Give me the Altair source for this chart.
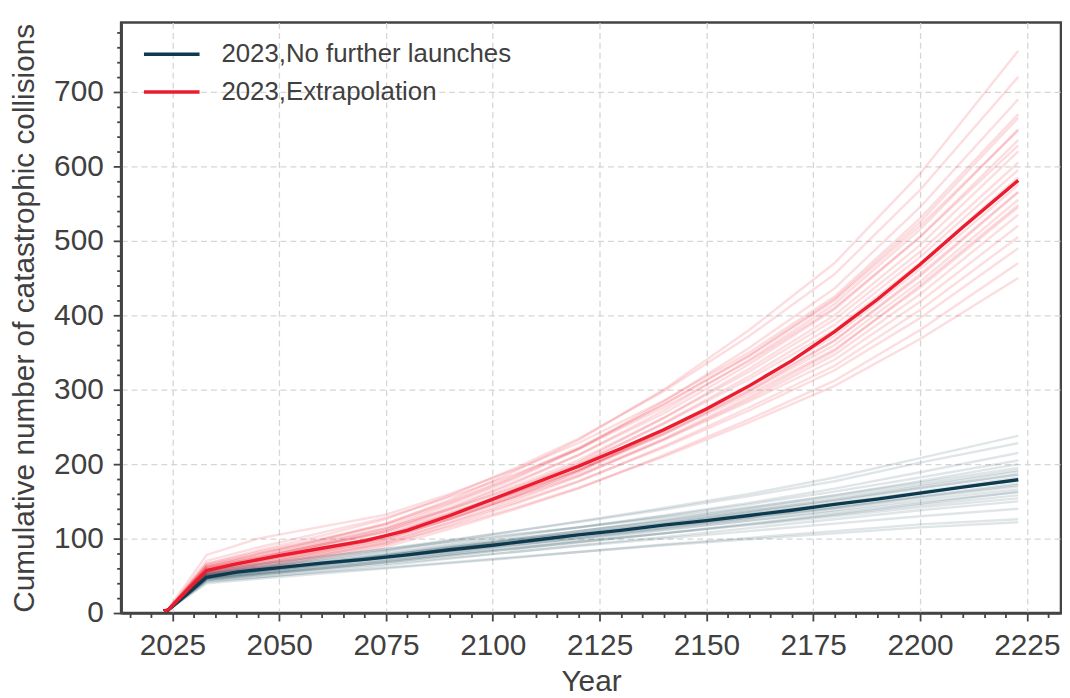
import altair as alt
import pandas as pd

# ---------------- data ----------------
# mean trajectories
mean_years = [2023, 2024, 2033, 2040, 2050, 2060, 2070, 2080, 2090, 2100, 2110,
              2120, 2130, 2140, 2150, 2160, 2170, 2180, 2190, 2200, 2210, 2223]
red_mean = [3, 4, 57, 66, 77, 87, 97, 111, 131, 153, 175,
            197, 221, 246, 274, 305, 339, 378, 421, 468, 518, 581]
dark_mean = [3, 4, 48, 55, 61, 67, 72, 78, 85, 91, 98,
             105, 111, 118, 124, 131, 138, 146, 153, 161, 169, 179]

# individual simulation runs
run_years = [2023, 2024, 2033, 2045, 2060, 2075, 2090, 2105, 2120, 2140, 2160, 2180, 2200, 2223]

red_runs = [
    [3, 5, 62, 78, 98, 120, 152, 190, 232, 300, 380, 470, 590, 755],
    [3, 4, 66, 84, 104, 126, 158, 194, 234, 298, 372, 455, 568, 720],
    [3, 5, 60, 75, 94, 114, 146, 180, 220, 284, 356, 436, 545, 690],
    [3, 4, 63, 80, 99, 118, 148, 182, 220, 280, 346, 422, 525, 665],
    [3, 5, 58, 72, 90, 110, 140, 174, 212, 272, 340, 415, 515, 650],
    [3, 4, 70, 88, 108, 128, 156, 186, 220, 276, 338, 410, 505, 635],
    [3, 4, 55, 69, 86, 104, 134, 166, 202, 262, 328, 400, 494, 620],
    [3, 5, 61, 74, 92, 110, 138, 170, 205, 262, 324, 394, 485, 605],
    [3, 4, 57, 70, 87, 104, 132, 162, 198, 255, 318, 387, 478, 595],
    [3, 4, 64, 79, 96, 114, 140, 168, 200, 254, 314, 380, 470, 585],
    [3, 4, 52, 65, 82, 99, 126, 156, 190, 245, 306, 372, 462, 575],
    [3, 5, 59, 72, 88, 104, 130, 160, 192, 244, 302, 366, 452, 565],
    [3, 4, 54, 67, 84, 102, 130, 160, 192, 242, 298, 360, 445, 555],
    [3, 4, 62, 76, 92, 108, 134, 162, 192, 240, 294, 354, 437, 545],
    [3, 4, 50, 62, 78, 95, 122, 151, 183, 233, 287, 347, 428, 535],
    [3, 4, 56, 69, 85, 101, 126, 154, 184, 232, 284, 340, 418, 520],
    [3, 4, 48, 60, 76, 92, 118, 146, 176, 224, 276, 332, 407, 505],
    [3, 4, 53, 65, 80, 96, 121, 148, 177, 222, 272, 326, 396, 490],
    [3, 4, 47, 59, 74, 89, 113, 139, 167, 212, 260, 312, 380, 470],
    [3, 4, 51, 63, 78, 93, 116, 141, 168, 210, 256, 305, 368, 450],
    [3, 5, 78, 100, 116, 132, 160, 192, 228, 285, 350, 425, 530, 670],
    [3, 4, 60, 74, 92, 112, 142, 176, 212, 268, 334, 408, 505, 628],
    [3, 4, 54, 66, 82, 99, 126, 157, 190, 240, 298, 366, 455, 566],
    [3, 4, 58, 71, 87, 104, 128, 156, 186, 234, 290, 352, 440, 548],
    [3, 5, 66, 82, 100, 120, 150, 184, 222, 280, 345, 420, 520, 648],
]

dark_runs = [
    [3, 4, 52, 61, 72, 84, 97, 110, 123, 141, 160, 182, 208, 238],
    [3, 4, 56, 64, 75, 86, 98, 110, 122, 139, 157, 177, 202, 228],
    [3, 4, 50, 58, 68, 79, 91, 103, 115, 131, 148, 167, 189, 215],
    [3, 4, 54, 62, 72, 83, 94, 105, 115, 130, 146, 163, 182, 205],
    [3, 4, 48, 56, 66, 77, 88, 99, 110, 125, 141, 158, 177, 200],
    [3, 4, 58, 66, 76, 86, 96, 106, 115, 128, 142, 158, 175, 195],
    [3, 4, 47, 55, 65, 75, 86, 97, 107, 121, 136, 152, 170, 190],
    [3, 4, 51, 58, 67, 77, 87, 97, 107, 120, 135, 150, 167, 186],
    [3, 4, 49, 56, 65, 75, 85, 95, 105, 118, 132, 147, 163, 182],
    [3, 4, 53, 60, 69, 78, 88, 98, 107, 120, 133, 147, 162, 178],
    [3, 4, 46, 53, 62, 71, 81, 91, 101, 114, 128, 142, 157, 174],
    [3, 4, 50, 57, 65, 74, 84, 94, 103, 115, 128, 141, 155, 170],
    [3, 4, 44, 51, 60, 69, 79, 89, 98, 111, 124, 138, 152, 166],
    [3, 4, 52, 58, 66, 74, 83, 92, 100, 112, 124, 136, 149, 162],
    [3, 4, 45, 52, 60, 68, 77, 86, 95, 107, 119, 132, 145, 158],
    [3, 4, 48, 54, 62, 70, 79, 87, 96, 107, 118, 130, 142, 154],
    [3, 4, 42, 48, 56, 64, 73, 82, 91, 102, 114, 126, 138, 150],
    [3, 4, 46, 52, 59, 66, 74, 82, 90, 100, 110, 120, 130, 140],
    [3, 4, 40, 46, 53, 60, 67, 74, 82, 92, 101, 110, 119, 126],
    [3, 4, 43, 48, 55, 61, 68, 75, 82, 91, 99, 107, 115, 122],
    [3, 4, 50, 57, 67, 77, 88, 99, 110, 124, 139, 155, 172, 192],
    [3, 4, 47, 54, 63, 72, 82, 92, 101, 114, 127, 141, 156, 172],
    [3, 4, 53, 61, 70, 80, 90, 100, 110, 123, 137, 152, 168, 186],
    [3, 4, 45, 51, 59, 68, 77, 86, 95, 107, 120, 133, 147, 163],
]

series_labels = ["2023,No further launches", "2023,Extrapolation"]
series_colors = ["#0d3a4e", "#ec1b2e"]

x_ticks = list(range(2015, 2235, 5))
y_ticks = list(range(0, 800, 20))

# ---------------- tables ----------------
def runs_table(runs, tag):
    rows = []
    for i, run in enumerate(runs):
        for yr, v in zip(run_years, run):
            rows.append({"year": yr, "value": v, "run": f"{tag}{i}"})
    return pd.DataFrame(rows)

red_runs_df = runs_table(red_runs, "r")
dark_runs_df = runs_table(dark_runs, "d")

mean_rows = []
for lab, vals in zip(series_labels, [dark_mean, red_mean]):
    for yr, v in zip(mean_years, vals):
        mean_rows.append({"year": yr, "value": v, "series": lab})
mean_df = pd.DataFrame(mean_rows)

# ---------------- axes ----------------
GRID_X = "datum.value % 25 === 0"
GRID_Y = "datum.value % 100 === 0"

x_axis = alt.Axis(
    values=x_ticks,
    format="d",
    labelExpr=f"{GRID_X} ? datum.label : ''",
    labelOverlap=False,
    labelFlush=False,
    tickSize={"condition": {"test": GRID_X, "value": 8}, "value": 4.5},
    gridOpacity={"condition": {"test": GRID_X, "value": 1}, "value": 0},
    labelPadding=10,
    titlePadding=6,
)
y_axis = alt.Axis(
    values=y_ticks,
    format="d",
    labelExpr=f"{GRID_Y} ? datum.label : ''",
    labelOverlap=False,
    labelFlush=False,
    tickSize={"condition": {"test": GRID_Y, "value": 8}, "value": 4.5},
    gridOpacity={"condition": {"test": GRID_Y, "value": 1}, "value": 0},
    labelPadding=10,
    titlePadding=14,
)

x_enc = alt.X("year:Q", scale=alt.Scale(domain=[2013, 2233], nice=False, zero=False),
              axis=x_axis, title="Year")
y_enc = alt.Y("value:Q", scale=alt.Scale(domain=[0, 793], nice=False, zero=False),
              axis=y_axis, title="Cumulative number of catastrophic collisions")

red_band = alt.Chart(red_runs_df).mark_line(
    strokeWidth=2.4, color=series_colors[1], opacity=0.15
).encode(x=x_enc, y=y_enc, detail="run:N")
dark_band = alt.Chart(dark_runs_df).mark_line(
    strokeWidth=2.4, color=series_colors[0], opacity=0.13
).encode(x=x_enc, y=y_enc, detail="run:N")

means = alt.Chart(mean_df).mark_line(strokeWidth=3.4).encode(
    x=x_enc,
    y=y_enc,
    color=alt.Color(
        "series:N",
        scale=alt.Scale(domain=series_labels, range=series_colors),
        legend=alt.Legend(
            title=None,
            orient="none",
            legendX=35,
            legendY=16,
            symbolType="M-2,0L2,0",
            symbolSize=784,
            symbolStrokeWidth=3.5,
            labelFontSize=26,
            labelOffset=34,
            labelLimit=0,
            rowPadding=9,
            padding=0,
            labelColor="#404040",
            labelFont="Liberation Sans",
        ),
    ),
    order=alt.Order("series:N", sort="ascending"),
)

chart = (
    alt.layer(red_band, dark_band, means)
    .properties(
        width=947,
        height=595,
        autosize=alt.AutoSizeParams(type="none"),
        padding={"left": 114, "top": 12, "right": 1, "bottom": 83},
        background="white",
    )
    .configure(font="Liberation Sans")
    .configure_view(stroke="#444444", strokeWidth=2.6)
    .configure_axis(
        labelFont="Liberation Sans",
        labelFontSize=30,
        labelColor="#404040",
        titleFont="Liberation Sans",
        titleFontSize=30,
        titleFontWeight="normal",
        titleColor="#404040",
        domainColor="#444444",
        domainWidth=2.6,
        tickColor="#444444",
        tickWidth=1.8,
        gridColor="#d6d6d6",
        gridDash=[6, 4],
        gridWidth=1.3,
    )
)

chart.save("out.html", embed_options={"renderer": "svg", "actions": False})
